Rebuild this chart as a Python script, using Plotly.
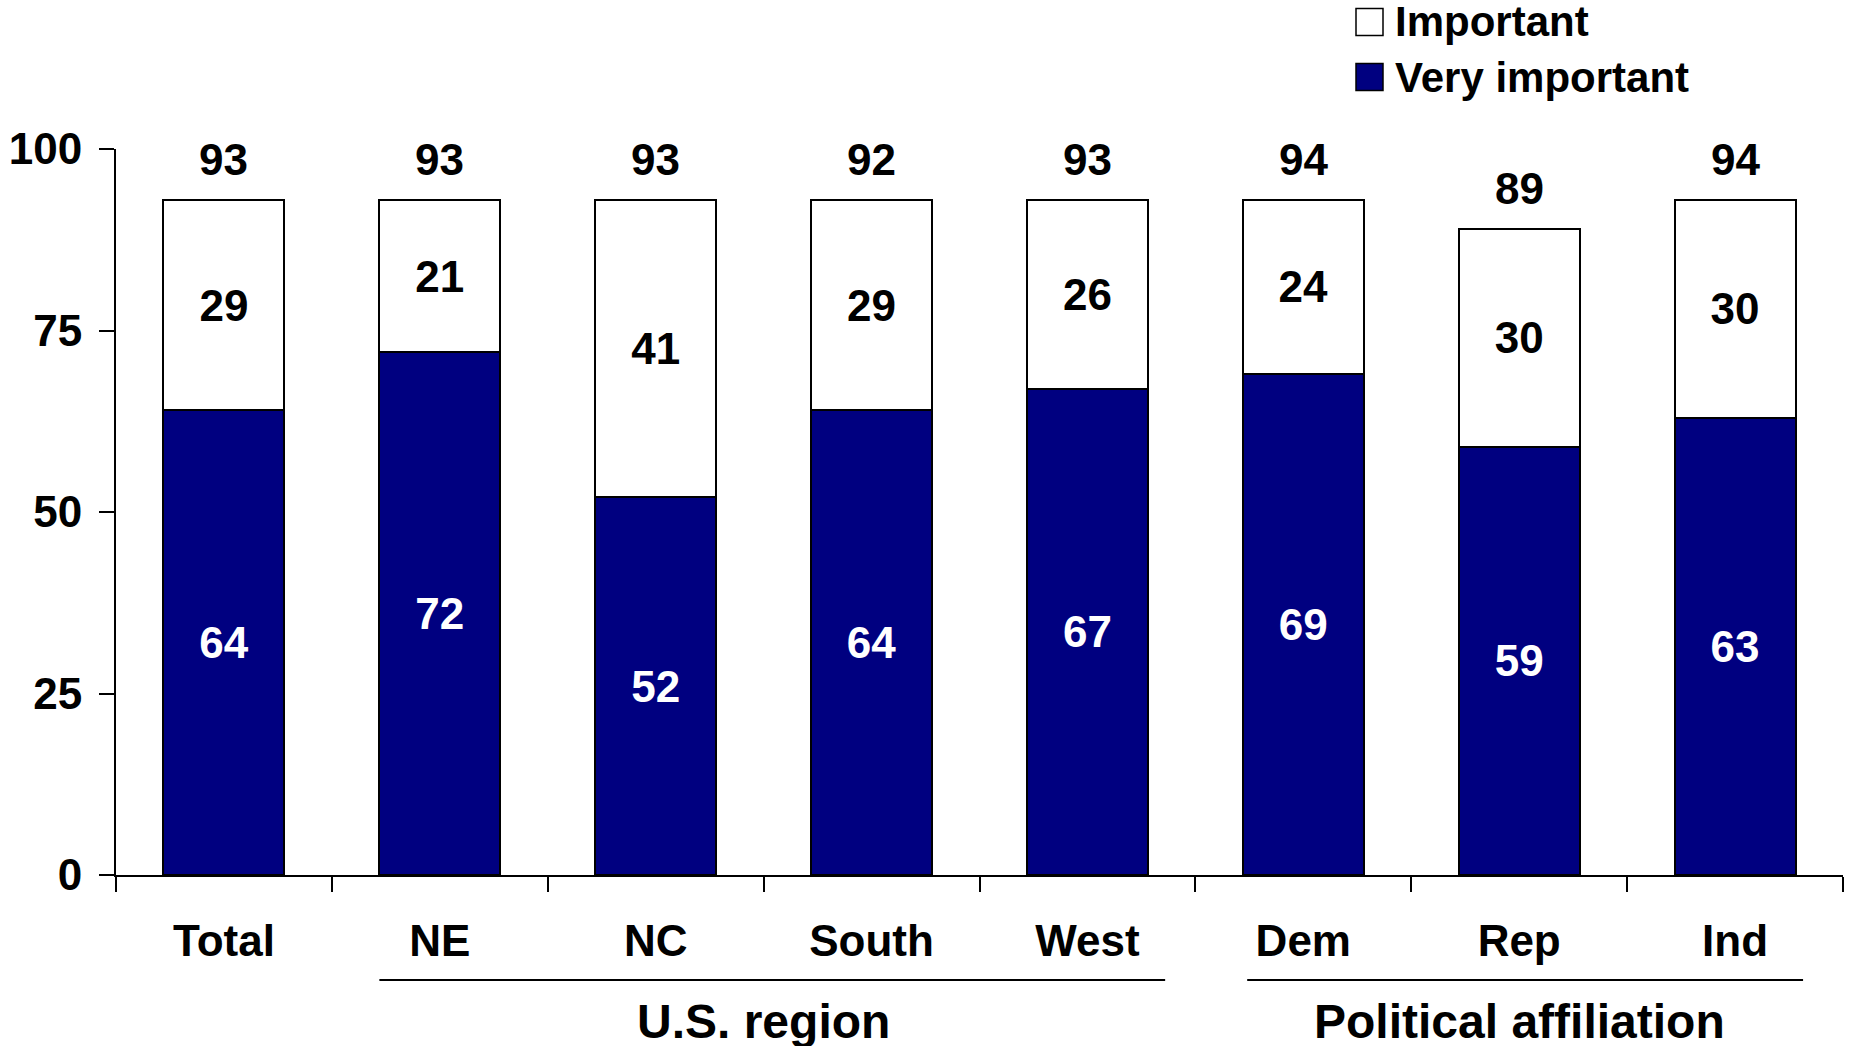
import plotly.graph_objects as go

# Survey results by group (percent)
categories = ["Total", "NE", "NC", "South", "West", "Dem", "Rep", "Ind"]
very_important = [64, 72, 52, 64, 67, 69, 59, 63]
important = [29, 21, 41, 29, 26, 24, 30, 30]
total_labels = ["93", "93", "93", "92", "93", "94", "89", "94"]
y_ticks = [0, 25, 50, 75, 100]
legend_names = ["Important", "Very important"]
group_names = ["U.S. region", "Political affiliation"]

NAVY = "#000080"
FONT = "Liberation Sans, Arial, sans-serif"
FS = 44

# pixel geometry of the plotting area
W, H = 1851, 1046
L, R, T, B = 116, 8, 149, 171
PW, PH = W - L - R, H - T - B


def px_x(px):
    return (px - L) / PW


def px_y(py):
    return (H - B - py) / PH


fig = go.Figure()

fig.add_trace(go.Bar(
    x=categories, y=very_important, name=legend_names[1],
    marker=dict(color=NAVY, line=dict(color="black", width=2)),
    text=[str(v) for v in very_important], textposition="inside",
    insidetextanchor="middle", textangle=0,
    textfont=dict(color="white", size=FS, family=FONT),
    width=0.56, showlegend=False,
))
fig.add_trace(go.Bar(
    x=categories, y=important, name=legend_names[0],
    marker=dict(color="white", line=dict(color="black", width=2)),
    text=[str(v) for v in important], textposition="inside",
    insidetextanchor="middle", textangle=0,
    textfont=dict(color="black", size=FS, family=FONT),
    width=0.56, showlegend=False,
))

annotations = []
# totals above each stack
for cat, v, i, lab in zip(categories, very_important, important, total_labels):
    annotations.append(dict(
        x=cat, y=v + i, xref="x", yref="y", text=f"<b>{lab}</b>",
        showarrow=False, yanchor="middle", yshift=40,
        font=dict(size=FS, color="black", family=FONT),
    ))

shapes = []
# group underlines and titles
groups = [(0.72, 4.36, 2.5), (4.74, 7.315, 6.0)]
for (x0, x1, xc), name in zip(groups, group_names):
    shapes.append(dict(type="line", xref="x", yref="paper",
                       x0=x0, x1=x1, y0=px_y(980), y1=px_y(980),
                       line=dict(color="black", width=2)))
    annotations.append(dict(
        x=xc, y=px_y(1021), xref="x", yref="paper", text=f"<b>{name}</b>",
        showarrow=False, xanchor="center", yanchor="middle",
        font=dict(size=48, color="black", family=FONT),
    ))

# legend drawn as boxes with labels
legend_rows = [(legend_names[0], "white", 22), (legend_names[1], NAVY, 77)]
for name, color, cy in legend_rows:
    shapes.append(dict(type="rect", xref="paper", yref="paper",
                       x0=px_x(1356), x1=px_x(1383),
                       y0=px_y(cy - 13.5), y1=px_y(cy + 13.5),
                       fillcolor=color, line=dict(color="black", width=1.5)))
    annotations.append(dict(
        x=px_x(1393), y=px_y(cy), xref="paper", yref="paper",
        text=f"<b>{name}</b>", showarrow=False,
        xanchor="left", yanchor="middle",
        font=dict(size=42, color="black", family=FONT),
    ))

fig.update_layout(
    barmode="stack",
    width=W, height=H,
    margin=dict(l=L, r=R, t=T, b=B, pad=0),
    paper_bgcolor="white", plot_bgcolor="white",
    font=dict(family=FONT, size=FS, color="black"),
    annotations=annotations, shapes=shapes,
    showlegend=False,
)
fig.update_traces(cliponaxis=False)
fig.update_traces(texttemplate="<b>%{text}</b>")

fig.update_xaxes(
    type="category", range=[-0.5, 7.5], automargin=False,
    showline=True, linecolor="black", linewidth=2,
    ticks="outside", tickson="boundaries", ticklen=15, tickwidth=2,
    tickcolor="black", showgrid=False, zeroline=False,
    tickfont=dict(size=FS, family=FONT, color="black"),
    ticklabelstandoff=26,
    tickvals=categories, ticktext=[f"<b>{c}</b>" for c in categories],
)
fig.update_yaxes(
    range=[0, 100], tickvals=y_ticks, automargin=False,
    ticktext=[f"<b>{t}</b>" for t in y_ticks],
    showline=True, linecolor="black", linewidth=2,
    ticks="outside", ticklen=15, tickwidth=2, tickcolor="black",
    showgrid=False, zeroline=False,
    tickfont=dict(size=FS, family=FONT, color="black"),
    ticklabelstandoff=8,
)

fig.write_html("out.html")
